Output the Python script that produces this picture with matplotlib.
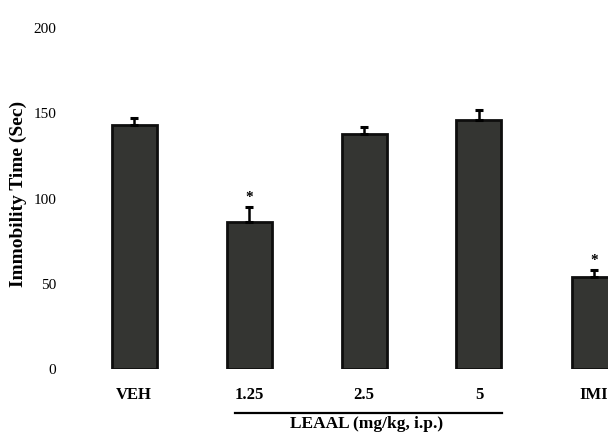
import matplotlib
matplotlib.use("Agg")
import matplotlib.pyplot as plt
import matplotlib.transforms as mtransforms

categories = ["VEH", "1.25", "2.5", "5", "IMI"]
values = [143, 86, 138, 146, 54]
errors = [4, 9, 4, 6, 4]
significance = ["", "*", "", "", "*"]
yticks = [0, 50, 100, 150, 200]
ylabel = "Immobility Time (Sec)"
group_label = "LEAAL (mg/kg, i.p.)"

plt.rcParams['font.family'] = ['Liberation Serif', 'DejaVu Serif']

W, H = 608, 433
fig = plt.figure(figsize=(W / 100, H / 100), dpi=100)
L, R, B, T = 70, 608, 369, 28
ax = fig.add_axes([L / W, (H - B) / H, (R - L) / W, (B - T) / H])

step = 115.0
x0 = 134.0
xs = list(range(len(categories)))
ax.bar(xs, values, width=45 / step, color='#343532', edgecolor='#0e0e0e',
       linewidth=2.0, zorder=2)
ax.errorbar(xs, values, yerr=[[0 for e in errors], errors], fmt='none',
            ecolor='black', elinewidth=1.8, capsize=3, capthick=2.2, zorder=3)
for x, v, e, s in zip(xs, values, errors, significance):
    if s:
        ax.text(x, v + e + 2, s, ha='center', va='bottom', fontsize=11,
                fontweight='bold', color='black')

ax.set_xlim((L - x0) / step, (R - x0) / step)
ax.set_ylim(0, 200)
ax.set_yticks(yticks)
ax.set_yticklabels([str(t) for t in yticks], fontsize=11)
ax.set_xticks(xs)
ax.set_xticklabels(categories, fontsize=12, fontweight='bold')
ax.tick_params(axis='y', length=0, pad=10)
ax.tick_params(axis='x', length=0, pad=13)
for sp in ax.spines.values():
    sp.set_visible(False)

fig.text(18 / W, 1 - 194 / H, ylabel, rotation=90, ha='center', va='center',
         fontsize=14, fontweight='bold')

trans = mtransforms.blended_transform_factory(ax.transData, ax.transAxes)
ax.plot([(235 - x0) / step, (502 - x0) / step], [-0.129, -0.129],
        color='black', linewidth=1.6, transform=trans, clip_on=False)
ax.text((367 - x0) / step, -0.160, group_label, transform=trans, ha='center',
        va='center', fontsize=12.5, fontweight='bold')

fig.savefig("out.png", dpi=100)
